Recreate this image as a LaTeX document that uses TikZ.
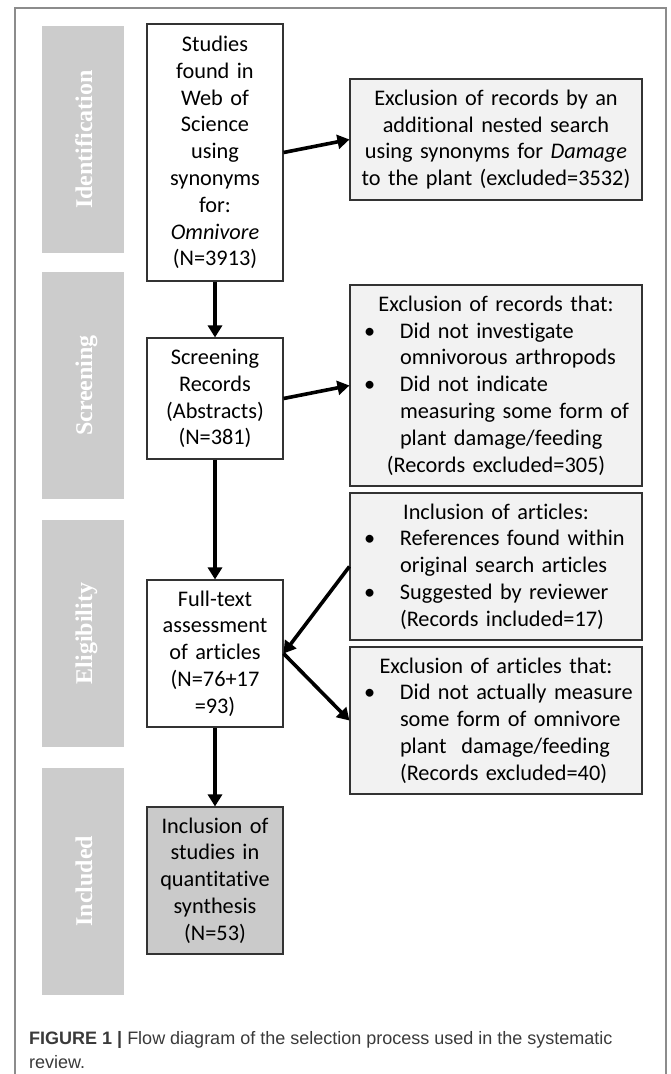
\documentclass[tikz,border=0pt]{standalone}
\usepackage{fontspec}
\setmainfont{Carlito}[Ligatures=NoCommon]
\newfontfamily\bandfont{Liberation Serif}
\newfontfamily\capfont{Liberation Sans}
\usetikzlibrary{arrows.meta,positioning}
\definecolor{bandgray}{HTML}{CCCCCC}
\definecolor{boxlight}{HTML}{F2F2F2}
\definecolor{boxdark}{HTML}{CACACA}
\definecolor{framegray}{HTML}{8C8C8C}
\definecolor{captext}{HTML}{3A3A3A}
\newcommand{\bitem}{\makebox[50pt][l]{\hspace{14pt}\textbullet}}
\newcommand{\bcont}{\hspace*{50pt}}
\newcommand{\ctr}[1]{\makebox[292pt][c]{#1}}

\begin{document}
\begin{tikzpicture}[
    x=1pt,y=-1pt,
    band/.style    = {fill=bandgray,minimum width=82pt,minimum height=227pt,inner sep=0pt},
    bandlab/.style = {text=white,font=\bandfont\bfseries\fontsize{24}{28}\selectfont,
                      rotate=90,anchor=base,inner sep=0pt},
    mbox/.style    = {draw=black!80,line width=1.1pt,fill=white,align=center,
                      text width=136pt,inner sep=0pt,
                      font=\fontsize{22.3}{26.8}\selectfont},
    sbox/.style    = {mbox,fill=boxlight,align=left,text width=292pt},
    fl/.style      = {-{Triangle[length=12pt,width=14pt]},line width=3.6pt},
  ]
  \useasboundingbox (0,0) rectangle (670,1074);
  \draw[framegray,line width=1.3pt] (15,1074) -- (15,8) -- (666,8) -- (666,1074);

  % phases on the left
  \node[band] (bid) at (83,139.5) {};
  \node[band] (bsc) at (83,385.5) {};
  \node[band] (bel) at (83,633.5) {};
  \node[band] (bin) at (83,881)   {};
  \node[bandlab] (lid) at ([xshift=9pt]bid.center) {Identification};
  \node[bandlab] (lsc) at ([xshift=9pt]bsc.center) {Screening};
  \node[bandlab] (lel) at ([xshift=9pt]bel.center) {Eligibility};
  \node[bandlab] (lin) at ([xshift=9pt]bin.center) {Included};

  % main column
  \node[mbox,minimum height=257pt] (stud) at (215,152.5)
       {Studies\\found in\\Web of\\Science\\using\\synonyms\\for:\\\textit{Omnivore}\\(N=3913)};
  \node[mbox,minimum height=121pt] (scr) at (215,398.5)
       {Screening\\Records\\(Abstracts)\\(N=381)};
  \node[mbox,minimum height=147pt] (full) at (215,653.5)
       {Full-text\\assessment\\of articles\\(N=76+17\\=93)};
  \node[mbox,fill=boxdark,minimum height=147pt] (incl) at (215,880.5)
       {Inclusion of\\studies in\\quantitative\\synthesis\\(N=53)};

  % side boxes
  \node[sbox,align=center,minimum height=121pt] (rexc) at (496,139.5)
       {Exclusion of records by an\\additional nested search\\using synonyms for \textit{Damage}\\to the plant (excluded=3532)};
  \node[sbox,minimum height=201pt] (rscr) at (496,385.5)
       {\ctr{Exclusion of records that:}\\
        \bitem Did not investigate\\
        \bcont omnivorous arthropods\\
        \bitem Did not indicate\\
        \bcont measuring some form of\\
        \bcont plant damage/feeding\\
        \ctr{(Records excluded=305)}};
  \node[sbox,minimum height=147pt] (rinc) at (496,566.5)
       {\ctr{Inclusion of articles:}\\
        \bitem References found within\\
        \bcont original search articles\\
        \bitem Suggested by reviewer\\
        \bcont (Records included=17)};
  \node[sbox,minimum height=147pt] (rart) at (496,720.5)
       {\ctr{Exclusion of articles that:}\\
        \bitem Did not actually measure\\
        \bcont some form of omnivore\\
        \bcont plant\ \ damage/feeding\\
        \bcont (Records excluded=40)};

  \foreach \a/\b in {stud/scr,scr/full,full/incl} \draw[fl] (\a.south) -- (\b.north);
  \foreach \a/\b in {stud/rexc,scr/rscr,full/rart} \draw[fl] (\a.east) -- (\b.west);
  \draw[fl] (rinc.west) -- (full.east);

  % caption
  \node[anchor=north west,inner sep=0pt,align=left,text=captext,
        font=\capfont\fontsize{18}{24}\selectfont] (cap) at (29,1031)
       {\textbf{FIGURE 1 |} Flow diagram of the selection process used in the systematic\\review.};
\end{tikzpicture}
\end{document}
